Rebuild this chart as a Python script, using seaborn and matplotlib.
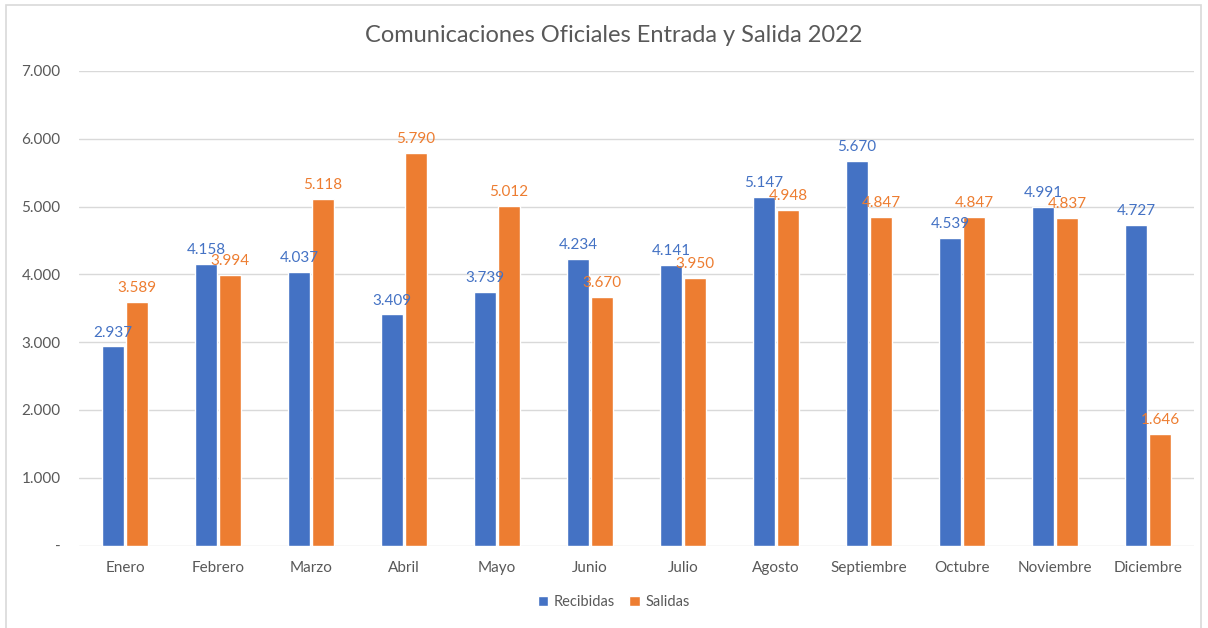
import matplotlib
matplotlib.use("Agg")
import matplotlib.pyplot as plt
from matplotlib.patches import Rectangle
import seaborn as sns
import pandas as pd

meses = ["Enero", "Febrero", "Marzo", "Abril", "Mayo", "Junio", "Julio",
         "Agosto", "Septiembre", "Octubre", "Noviembre", "Diciembre"]
recibidas = [2937, 4158, 4037, 3409, 3739, 4234, 4141, 5147, 5670, 4539, 4991, 4727]
salidas = [3589, 3994, 5118, 5790, 5012, 3670, 3950, 4948, 4847, 4847, 4837, 1646]
series = ["Recibidas", "Salidas"]
colores = ["#4472C4", "#ED7D31"]
y_ticks = [0, 1000, 2000, 3000, 4000, 5000, 6000, 7000]
titulo = "Comunicaciones Oficiales Entrada y Salida 2022"

df = pd.DataFrame({
    "Mes": meses * 2,
    "Serie": [series[0]] * len(meses) + [series[1]] * len(meses),
    "Valor": recibidas + salidas,
})


def miles(v):
    if v == 0:
        return "-"
    return f"{int(round(v)):,}".replace(",", ".")


sns.set_theme(style="white")
plt.rcParams["font.family"] = ["Lato", "DejaVu Sans"]

fig = plt.figure(figsize=(12.08, 6.28), dpi=100)
ax = fig.add_axes([0.065, 0.1312, 0.9238, 0.7558])

sns.barplot(data=df, x="Mes", y="Valor", hue="Serie", order=meses,
            hue_order=series, palette=colores, width=0.516, gap=0.11,
            saturation=1, ax=ax, legend=True)

for cont, col in zip(ax.containers, colores):
    ax.bar_label(cont, labels=[miles(b.get_height()) for b in cont],
                 padding=5, color=col, fontsize=11)

ax.set_ylim(0, 7000)
ax.set_yticks(y_ticks)
ax.set_yticklabels([miles(v) for v in y_ticks], color="#595959", fontsize=11)
ax.tick_params(axis="x", colors="#595959", labelsize=11, length=0, pad=11)
ax.tick_params(axis="y", length=0, pad=13)
ax.set_xlabel("")
ax.set_ylabel("")
ax.grid(axis="y", color="#D9D9D9", linewidth=1)
ax.set_axisbelow(True)
for s in ax.spines.values():
    s.set_visible(False)

handles, labels = ax.get_legend_handles_labels()
ax.get_legend().remove()
fig.legend(handles, labels, loc="center", bbox_to_anchor=(0.508, 0.041),
           ncol=2, frameon=False, fontsize=10.5, handlelength=0.7,
           handleheight=0.7, handletextpad=0.4, columnspacing=1.0,
           labelcolor="#595959")

fig.text(0.508, 0.944, titulo, ha="center", va="center", fontsize=17,
         color="#595959")

fig.patches.append(Rectangle((6 / 1208, -0.05), 1195 / 1208, 1.05 - 5 / 628,
                             transform=fig.transFigure, fill=False,
                             edgecolor="#D9D9D9", linewidth=1.2))

fig.savefig("out.png", dpi=100, facecolor="white")
